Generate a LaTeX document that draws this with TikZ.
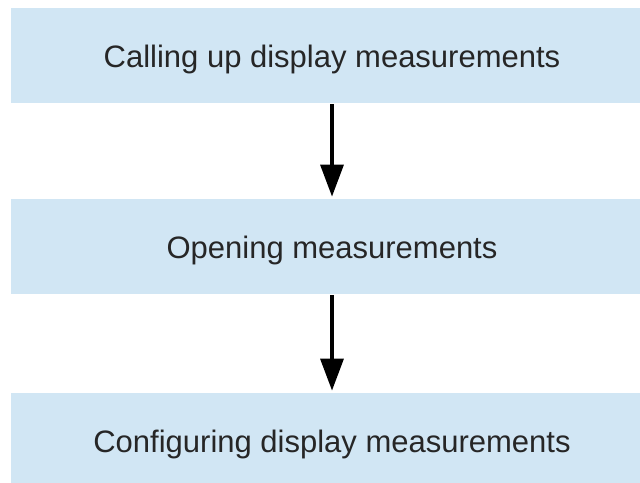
\documentclass[tikz,border=0pt]{standalone}
\usepackage{fontspec}
\setmainfont{Liberation Sans}
\usetikzlibrary{arrows.meta}
\definecolor{boxblue}{HTML}{D1E6F4}
\definecolor{txtgray}{HTML}{262626}
\tikzset{
	stepbox/.style={rectangle,fill=boxblue,text=txtgray,inner sep=0pt,minimum width=321pt,minimum height=47.5pt,text height=11.5pt,text depth=0pt,font=\fontsize{15.5}{18}\selectfont},
	flow/.style={->,line width=1.7pt,black,shorten >=1pt,shorten <=0.5pt},
	>={Triangle[width=11.5pt,length=16pt]},
	}
\begin{document}
\begin{tikzpicture}[x=0.5pt,y=-0.5pt]
\useasboundingbox (0,0) rectangle (640,482);
%BOXES
\node[stepbox] (call) at (332,55.5) {Calling up display measurements};
\node[stepbox] (open) at (332,246.5) {Opening measurements};
\node[stepbox] (conf) at (332,440.5) {Configuring display measurements};
%ARROWS
\draw[flow] (call) -- (open);
\draw[flow] (open) -- (conf);
\end{tikzpicture}
\end{document}
